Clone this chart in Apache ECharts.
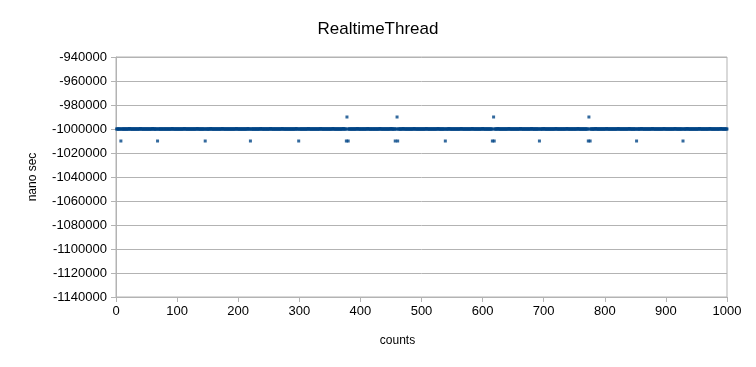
<!DOCTYPE html>
<html>
<head>
<meta charset="utf-8">
<script src="https://cdn.jsdelivr.net/npm/echarts@6/dist/echarts.min.js"></script>
<style>html,body{margin:0;padding:0;background:#fff}#c{width:756px;height:367px}</style>
</head>
<body>
<div id="c"></div>
<script>
var chartTitle = 'RealtimeThread';
var xName = 'counts';
var yName = 'nano sec';
var xTicks = [0, 100, 200, 300, 400, 500, 600, 700, 800, 900, 1000];
var yTicks = [-940000, -960000, -980000, -1000000, -1020000, -1040000, -1060000, -1080000, -1100000, -1120000, -1140000];
// nano sec values for counts 1..1000 (20 per row)
var nanoSec = [
-1e6,-1e6,-1e6,-1e6,-1e6,-1e6,-1e6,-1.01e6,-1e6,-1e6, -1e6,-1e6,-1e6,-1e6,-1e6,-1e6,-1e6,-1e6,-1e6,-1e6,
-1e6,-999600,-1e6,-1e6,-1e6,-1e6,-1e6,-1e6,-1e6,-1e6, -1e6,-1e6,-1e6,-1e6,-1e6,-1e6,-1e6,-1e6,-1e6,-999600,
-1e6,-1e6,-1e6,-1e6,-1e6,-1e6,-1e6,-1e6,-1e6,-1e6, -1e6,-1e6,-1e6,-1e6,-1e6,-1e6,-1e6,-1e6,-1e6,-999600,
-1e6,-1e6,-1e6,-1e6,-1e6,-1e6,-1e6,-1.01e6,-1e6,-1e6, -1e6,-1e6,-1e6,-1e6,-1e6,-1e6,-1e6,-1e6,-1e6,-1e6,
-1e6,-1e6,-1e6,-1e6,-1e6,-1e6,-1e6,-1e6,-1e6,-1e6, -1e6,-999600,-1e6,-1e6,-1e6,-1e6,-1e6,-1e6,-1e6,-1e6,
-1e6,-1e6,-1e6,-1e6,-1e6,-1e6,-1e6,-1e6,-1e6,-1e6, -1e6,-999600,-1e6,-1e6,-1e6,-1e6,-1e6,-1e6,-1e6,-1e6,
-1e6,-1e6,-1e6,-1e6,-1e6,-1e6,-1e6,-1e6,-1e6,-1e6, -1e6,-1e6,-999600,-1e6,-1e6,-1e6,-1e6,-1e6,-1e6,-1e6,
-1e6,-1e6,-1e6,-1e6,-1e6,-1.01e6,-1e6,-1e6,-1e6,-1e6, -1e6,-1e6,-1e6,-1e6,-999600,-1e6,-1e6,-1e6,-1e6,-1e6,
-1e6,-1e6,-1e6,-1e6,-1e6,-1e6,-1e6,-1e6,-1e6,-1e6, -1e6,-1e6,-1e6,-999600,-1e6,-1e6,-1e6,-1e6,-1e6,-1e6,
-1e6,-1e6,-1e6,-1e6,-1e6,-1e6,-1e6,-1e6,-1e6,-1e6, -1e6,-1e6,-1e6,-1e6,-1e6,-1e6,-999600,-1e6,-1e6,-1e6,
-1e6,-1e6,-1e6,-1e6,-1e6,-1e6,-1e6,-1e6,-1e6,-1e6, -1e6,-1e6,-1e6,-1e6,-1e6,-999600,-1e6,-1e6,-1e6,-1.01e6,
-1e6,-1e6,-1e6,-1e6,-1e6,-1e6,-1e6,-1e6,-1e6,-1e6, -1e6,-1e6,-1e6,-1e6,-1e6,-1e6,-999600,-1e6,-1e6,-1e6,
-1e6,-1e6,-1e6,-1e6,-1e6,-1e6,-1e6,-1e6,-1e6,-1e6, -1e6,-1e6,-999600,-1e6,-1e6,-1e6,-1e6,-1e6,-1e6,-1e6,
-1e6,-1e6,-1e6,-1e6,-1e6,-1e6,-1e6,-1e6,-1e6,-1e6, -1e6,-999600,-1e6,-1e6,-1e6,-1e6,-1e6,-1e6,-1e6,-1e6,
-1e6,-1e6,-1e6,-1e6,-1e6,-1e6,-1e6,-1e6,-1e6,-1e6, -1e6,-1e6,-1e6,-1e6,-999600,-1e6,-1e6,-1e6,-1.01e6,-1e6,
-1e6,-1e6,-1e6,-1e6,-1e6,-1e6,-1e6,-1e6,-1e6,-1e6, -1e6,-1e6,-1e6,-1e6,-999600,-1e6,-1e6,-1e6,-1e6,-1e6,
-1e6,-1e6,-1e6,-1e6,-1e6,-1e6,-1e6,-1e6,-1e6,-1e6, -1e6,-1e6,-1e6,-1e6,-999600,-1e6,-1e6,-1e6,-1e6,-1e6,
-1e6,-1e6,-1e6,-1e6,-1e6,-1e6,-1e6,-1e6,-1e6,-1e6, -1e6,-1e6,-1e6,-1e6,-999600,-1e6,-1e6,-1e6,-1e6,-1e6,
-1e6,-1e6,-1e6,-1e6,-1e6,-1e6,-1e6,-1e6,-1e6,-1e6, -1e6,-999600,-1e6,-1e6,-1e6,-1e6,-1.01e6,-9.9e5,-1e6,-1.01e6,
-1e6,-1e6,-1e6,-1e6,-1e6,-1e6,-1e6,-1e6,-1e6,-1e6, -1e6,-1e6,-1e6,-1e6,-999600,-1e6,-1e6,-1e6,-1e6,-1e6,
-1e6,-1e6,-1e6,-1e6,-1e6,-1e6,-1e6,-1e6,-1e6,-1e6, -1e6,-999600,-1e6,-1e6,-1e6,-1e6,-1e6,-1e6,-1e6,-1e6,
-1e6,-1e6,-1e6,-1e6,-1e6,-1e6,-1e6,-1e6,-1e6,-1e6, -1e6,-999600,-1e6,-1e6,-1e6,-1e6,-1e6,-1e6,-1e6,-1e6,
-1e6,-1e6,-1e6,-1e6,-1e6,-1e6,-1e6,-1e6,-1e6,-999600, -1e6,-1e6,-1e6,-1e6,-1e6,-1e6,-1.01e6,-1e6,-1e6,-9.9e5,
-1.01e6,-1e6,-1e6,-1e6,-1e6,-1e6,-1e6,-1e6,-1e6,-999600, -1e6,-1e6,-1e6,-1e6,-1e6,-1e6,-1e6,-1e6,-1e6,-1e6,
-1e6,-1e6,-1e6,-1e6,-1e6,-1e6,-1e6,-999600,-1e6,-1e6, -1e6,-1e6,-1e6,-1e6,-1e6,-1e6,-1e6,-1e6,-1e6,-1e6,
-1e6,-1e6,-1e6,-1e6,-1e6,-1e6,-1e6,-999600,-1e6,-1e6, -1e6,-1e6,-1e6,-1e6,-1e6,-1e6,-1e6,-1e6,-1e6,-1e6,
-1e6,-1e6,-1e6,-1e6,-1e6,-1e6,-999600,-1e6,-1e6,-1e6, -1e6,-1e6,-1e6,-1e6,-1e6,-1e6,-1e6,-1e6,-1.01e6,-1e6,
-1e6,-1e6,-1e6,-1e6,-999600,-1e6,-1e6,-1e6,-1e6,-1e6, -1e6,-1e6,-1e6,-1e6,-1e6,-1e6,-1e6,-1e6,-1e6,-1e6,
-1e6,-1e6,-1e6,-1e6,-999600,-1e6,-1e6,-1e6,-1e6,-1e6, -1e6,-1e6,-1e6,-1e6,-1e6,-1e6,-1e6,-1e6,-1e6,-1e6,
-1e6,-1e6,-999600,-1e6,-1e6,-1e6,-1e6,-1e6,-1e6,-1e6, -1e6,-1e6,-1e6,-1e6,-1e6,-1e6,-1e6,-1e6,-1e6,-999600,
-1e6,-1e6,-1e6,-1e6,-1e6,-1e6,-1e6,-1e6,-1e6,-1e6, -1e6,-1e6,-1e6,-1e6,-1e6,-1.01e6,-1e6,-9.9e5,-1.01e6,-1e6,
-1e6,-1e6,-1e6,-1e6,-999600,-1e6,-1e6,-1e6,-1e6,-1e6, -1e6,-1e6,-1e6,-1e6,-1e6,-1e6,-1e6,-1e6,-1e6,-1e6,
-1e6,-1e6,-999600,-1e6,-1e6,-1e6,-1e6,-1e6,-1e6,-1e6, -1e6,-1e6,-1e6,-1e6,-1e6,-1e6,-1e6,-1e6,-1e6,-1e6,
-1e6,-999600,-1e6,-1e6,-1e6,-1e6,-1e6,-1e6,-1e6,-1e6, -1e6,-1e6,-1e6,-1e6,-1e6,-1e6,-1e6,-1e6,-1e6,-999600,
-1e6,-1e6,-1e6,-1e6,-1e6,-1e6,-1e6,-1e6,-1e6,-1e6, -1e6,-1e6,-1.01e6,-1e6,-1e6,-1e6,-1e6,-1e6,-1e6,-999600,
-1e6,-1e6,-1e6,-1e6,-1e6,-1e6,-1e6,-1e6,-1e6,-1e6, -1e6,-1e6,-1e6,-1e6,-1e6,-1e6,-1e6,-1e6,-1e6,-999600,
-1e6,-1e6,-1e6,-1e6,-1e6,-1e6,-1e6,-1e6,-1e6,-1e6, -1e6,-1e6,-1e6,-1e6,-1e6,-1e6,-1e6,-999600,-1e6,-1e6,
-1e6,-1e6,-1e6,-1e6,-1e6,-1e6,-1e6,-1e6,-1e6,-1e6, -1e6,-1e6,-1e6,-1e6,-1e6,-999600,-1e6,-1e6,-1e6,-1e6,
-1e6,-1e6,-1e6,-1e6,-1e6,-1e6,-1e6,-1e6,-1e6,-1e6, -1e6,-1e6,-1.01e6,-9.9e5,-1e6,-1.01e6,-1e6,-1e6,-1e6,-1e6,
-1e6,-1e6,-1e6,-1e6,-999600,-1e6,-1e6,-1e6,-1e6,-1e6, -1e6,-1e6,-1e6,-1e6,-1e6,-1e6,-1e6,-1e6,-1e6,-1e6,
-1e6,-1e6,-999600,-1e6,-1e6,-1e6,-1e6,-1e6,-1e6,-1e6, -1e6,-1e6,-1e6,-1e6,-1e6,-1e6,-1e6,-1e6,-1e6,-1e6,
-1e6,-999600,-1e6,-1e6,-1e6,-1e6,-1e6,-1e6,-1e6,-1e6, -1e6,-1e6,-1e6,-1e6,-1e6,-1e6,-1e6,-1e6,-1e6,-999600,
-1e6,-1e6,-1e6,-1e6,-1e6,-1e6,-1e6,-1e6,-1e6,-1e6, -1e6,-1.01e6,-1e6,-1e6,-1e6,-1e6,-1e6,-1e6,-1e6,-999600,
-1e6,-1e6,-1e6,-1e6,-1e6,-1e6,-1e6,-1e6,-1e6,-1e6, -1e6,-1e6,-1e6,-1e6,-1e6,-1e6,-1e6,-999600,-1e6,-1e6,
-1e6,-1e6,-1e6,-1e6,-1e6,-1e6,-1e6,-1e6,-1e6,-1e6, -1e6,-1e6,-1e6,-1e6,-1e6,-1e6,-999600,-1e6,-1e6,-1e6,
-1e6,-1e6,-1e6,-1e6,-1e6,-1e6,-1e6,-1e6,-1e6,-1e6, -1e6,-1e6,-1e6,-1e6,-999600,-1e6,-1e6,-1e6,-1e6,-1e6,
-1e6,-1e6,-1e6,-1e6,-1e6,-1e6,-1e6,-1.01e6,-1e6,-1e6, -1e6,-1e6,-1e6,-1e6,-999600,-1e6,-1e6,-1e6,-1e6,-1e6,
-1e6,-1e6,-1e6,-1e6,-1e6,-1e6,-1e6,-1e6,-1e6,-1e6, -1e6,-1e6,-1e6,-1e6,-999600,-1e6,-1e6,-1e6,-1e6,-1e6,
-1e6,-1e6,-1e6,-1e6,-1e6,-1e6,-1e6,-1e6,-1e6,-1e6, -1e6,-999600,-1e6,-1e6,-1e6,-1e6,-1e6,-1e6,-1e6,-1e6,
-1e6,-1e6,-1e6,-1e6,-1e6,-1e6,-1e6,-1e6,-1e6,-999600, -1e6,-1e6,-1e6,-1e6,-1e6,-1e6,-1e6,-1e6,-1e6,-1e6
];

var points = nanoSec.map(function (v, i) { return [i + 1, v]; });
var FONT = '"Liberation Sans", Arial, sans-serif';
var chart = echarts.init(document.getElementById('c'), null, { renderer: 'canvas' });
chart.setOption({
  animation: false,
  backgroundColor: '#ffffff',
  title: {
    text: chartTitle, left: 'center', top: 16,
    textStyle: { fontFamily: FONT, fontSize: 17, fontWeight: 'normal', color: '#000' }
  },
  grid: {
    left: 116, right: 29, top: 57, bottom: 70,
    show: true, borderColor: '#b3b3b3', borderWidth: 1, backgroundColor: 'transparent'
  },
  xAxis: {
    type: 'value', min: xTicks[0], max: xTicks[xTicks.length - 1], interval: 100,
    name: xName, nameLocation: 'middle', nameGap: 38,
    nameTextStyle: { fontFamily: FONT, fontSize: 12, color: '#000', padding: [0, 48, 0, 0] },
    axisLine: { lineStyle: { color: '#b3b3b3' } },
    axisTick: { show: true, length: 5, lineStyle: { color: '#b3b3b3' } },
    axisLabel: { fontFamily: FONT, fontSize: 13, color: '#000', margin: 8,
      formatter: function (v) { return String(v); } },
    splitLine: { show: false }
  },
  yAxis: {
    type: 'value', min: yTicks[yTicks.length - 1], max: yTicks[0], interval: 20000,
    name: yName, nameLocation: 'middle', nameRotate: 90, nameGap: 77,
    nameTextStyle: { fontFamily: FONT, fontSize: 12, color: '#000' },
    axisLine: { show: true, lineStyle: { color: '#b3b3b3' } },
    axisTick: { show: true, length: 5, lineStyle: { color: '#b3b3b3' } },
    axisLabel: { fontFamily: FONT, fontSize: 13, color: '#000', margin: 9,
      formatter: function (v) { return String(v); } },
    splitLine: { show: true, lineStyle: { color: '#b3b3b3' } }
  },
  series: [{
    type: 'scatter', symbol: 'rect', symbolSize: 3,
    itemStyle: { color: '#004586' },
    data: points
  }]
});
</script>
</body>
</html>
